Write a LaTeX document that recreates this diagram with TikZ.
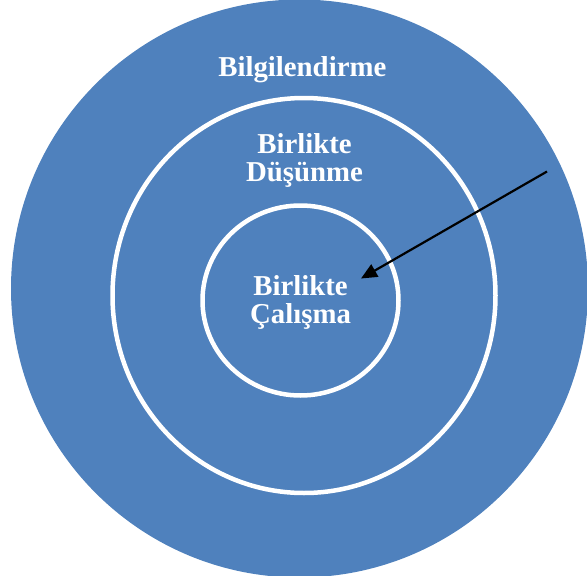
\documentclass[tikz,border=0pt]{standalone}
\usepackage{fontspec}
\setmainfont{Liberation Serif}
\usetikzlibrary{arrows.meta,shapes.geometric}
\definecolor{ringblue}{RGB}{79,129,189}

\begin{document}
\begin{tikzpicture}[
  x=1pt, y=-1pt,
  disc/.style ={ellipse,fill=ringblue,draw=none,inner sep=0},
  ring/.style ={ellipse,draw=white,line width=4.5pt,inner sep=0},
  lab/.style  ={text=white,font=\bfseries\fontsize{28.8}{28.5}\selectfont,
                align=center,inner sep=0,anchor=base},
  ptr/.style  ={draw,-{Triangle[length=16pt,width=14pt]},line width=2.2pt},
]
\useasboundingbox (0,0) rectangle (587,576);

% ------------------------------------------------------------ rings
\node[disc,minimum width=577pt,minimum height=578pt] (outer)  at (299.5,288.5) {};
\node[ring,minimum width=383pt,minimum height=395pt] (middle) at (304,295.5) {};
\node[ring,minimum width=196pt,minimum height=190pt] (inner)  at (300.5,300.5) {};

% ------------------------------------------------------------ texts
% (base anchor of a two-line node sits on its last line)
\node[lab] (bilgi)  at (302.3,76)    {Bilgilendirme};
\node[lab] (dusun)  at (304.5,181.7) {Birlikte\\Düşünme};
\node[lab] (calis)  at (300.5,323.5) {Birlikte\\Çalışma};

% ------------------------------------------------------------ pointer
\coordinate (tail) at (547,171.5);
\coordinate (tip)  at (361,278.5);
\draw[ptr] (tail) -- (tip);

\end{tikzpicture}
\end{document}
